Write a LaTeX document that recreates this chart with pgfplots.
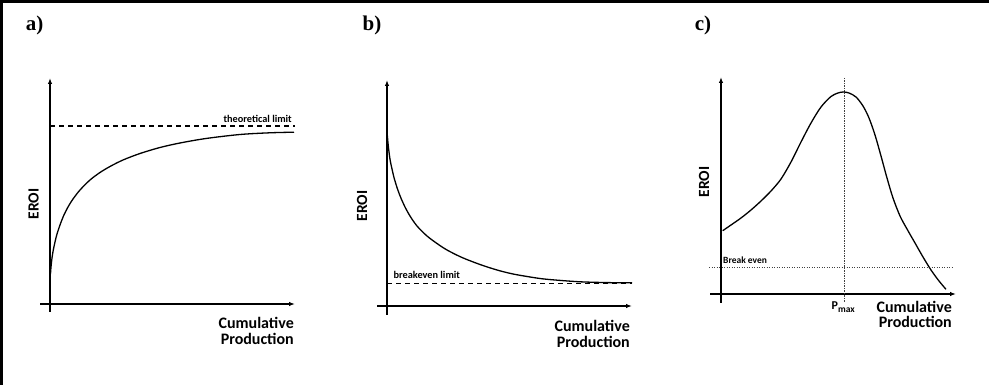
\documentclass[border=0pt]{standalone}
\usepackage{fontspec}
\setmainfont{Carlito}
\newfontfamily\tnr{Liberation Serif}
\usepackage{pgfplots}
\pgfplotsset{compat=1.18}
\usetikzlibrary{arrows.meta}
\pgfplotsset{
  eroi/.style={x=1pt,y=1pt, anchor=south west, axis lines=middle,
    xtick=\empty, ytick=\empty, clip=false,
    axis line style={line width=1.6pt, -{Latex[length=6pt,width=4.5pt]}}},
  curve/.style={black, line width=1.3pt, smooth, tension=0.5, no marks},
  lim/.style={black, line width=1.2pt, dash pattern=on 5pt off 4pt, no marks},
  dot/.style={black!75, line width=0.8pt, dash pattern=on 1.2pt off 1.3pt, no marks},
}
\newcommand{\biglab}{\bfseries\fontsize{16}{16}\selectfont}
\newcommand{\biglabc}{\bfseries\fontsize{16}{14.5}\selectfont}
\newcommand{\eroilab}{\bfseries\fontsize{15.5}{15.5}\selectfont}
\newcommand{\smallab}{\bfseries\fontsize{10.3}{11}\selectfont}
\newcommand{\subtxt}{\fontsize{9.5}{9.5}\selectfont}
\begin{document}
\begin{tikzpicture}
\path[use as bounding box] (0,0) rectangle (989pt,385pt);
\draw[line width=3pt] (1.5pt,0pt) -- (1.5pt,383.5pt) -- (989pt,383.5pt);
\node[font=\tnr\bfseries\fontsize{21}{21}\selectfont] at (34.5pt,360pt) {a)};
\node[font=\tnr\bfseries\fontsize{21}{21}\selectfont] at (372pt,360pt) {b)};
\node[font=\tnr\bfseries\fontsize{21}{21}\selectfont] at (703pt,360pt) {c)};

% panel a
\begin{axis}[eroi, at={(40pt,73pt)}, xmin=-10, xmax=245, ymin=-8, ymax=226]
\addplot[lim] coordinates {(0,178) (245,178)};
\addplot[curve] coordinates {(0.5,30) (1,37) (2,46) (3.3,54) (5,62) (7,70) (10,79) (13.5,88) (18,97) (23,105) (30,114) (40,124) (50,131.5) (60,137.5) (73,144) (90,150.5) (110,156.5) (130,161) (156,165.5) (190,169.5) (220,171.2) (244,171.8)};
\node[anchor=base east, inner sep=0, font=\smallab] at (axis cs:242,181.5) {theoretical limit};
\node[rotate=90, inner sep=0, font=\eroilab] at (axis cs:-16.5,100) {EROI};
\node[anchor=north east, align=right, inner sep=0, font=\biglab] at (axis cs:244,-13) {Cumulative\\Production};
\end{axis}

% panel b
\begin{axis}[eroi, at={(377pt,70pt)}, xmin=-10, xmax=245, ymin=-9, ymax=226]
\addplot[lim] coordinates {(0,22.7) (245,22.7)};
\addplot[curve] coordinates {(0.3,171) (1,163) (2,154) (3.3,145) (5,137) (7,128.5) (10,118.5) (13.5,109) (18,99) (23,90) (30,80) (40,70) (50,62.5) (60,56) (75,48.5) (93,41.5) (110,36) (126,32) (145,28.7) (160,26.7) (193,24.2) (226,23.3) (245,23.2)};
\node[anchor=base west, inner sep=0, font=\smallab] at (axis cs:6.3,27.7) {breakeven limit};
\node[rotate=90, inner sep=0, font=\eroilab] at (axis cs:-25,100) {EROI};
\node[anchor=north east, align=right, inner sep=0, font=\biglab] at (axis cs:243,-14) {Cumulative\\Production};
\end{axis}

% panel c
\begin{axis}[eroi, at={(710pt,82pt)}, xmin=-11, xmax=235, ymin=-9, ymax=217]
\addplot[dot] coordinates {(123,216) (123,-8)};
\addplot[dot] coordinates {(-12,26.7) (232,26.7)};
\addplot[curve] coordinates {(1.7,63.3) (10,69) (20,76) (30,84) (40,93) (50,103) (60,115) (70,132) (80,152) (90,171) (100,187) (110,197.5) (117,201) (122.3,202) (128,201) (135,197) (142,188) (148,176) (154,159) (160,138) (166,116) (172,96) (179,78) (186,65) (194,51) (202,37) (210,24) (218,13) (225,4.7)};
\node[anchor=base west, inner sep=0, font=\bfseries\fontsize{9.5}{10}\selectfont] at (axis cs:2,30) {Break even};
\node[anchor=base west, inner sep=0, font=\bfseries\fontsize{12}{12}\selectfont] at (axis cs:110.5,-16) {P\lower2.5pt\hbox{\subtxt max}};
\node[rotate=90, inner sep=0, font=\eroilab] at (axis cs:-17,112) {EROI};
\node[anchor=north east, align=right, inner sep=0, font=\biglabc] at (axis cs:231,-7.5) {Cumulative\\Production};
\end{axis}
\end{tikzpicture}
\end{document}
